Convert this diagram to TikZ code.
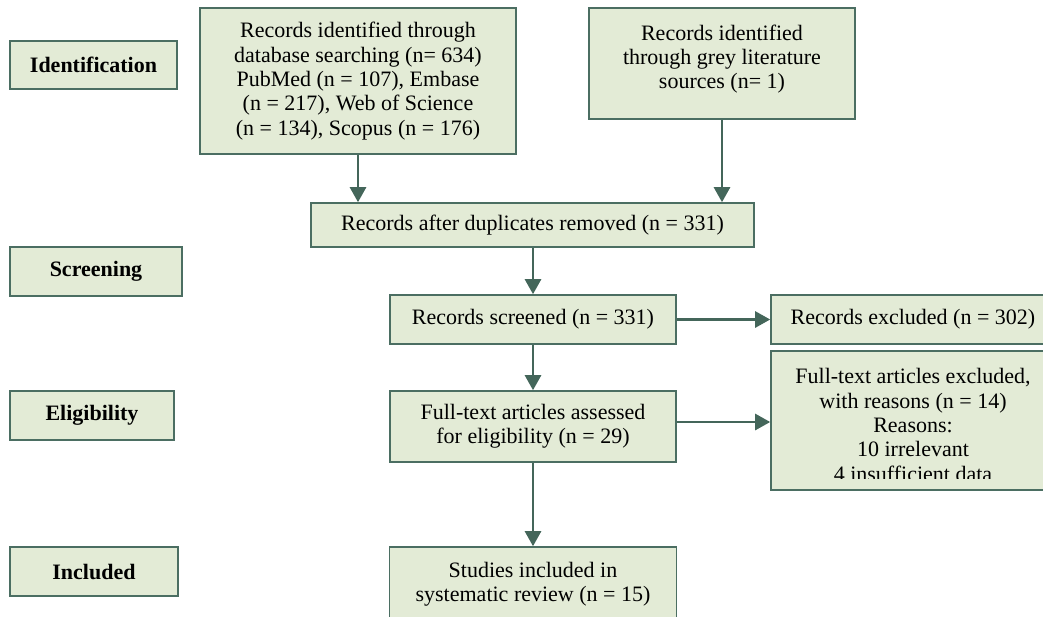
\documentclass[tikz,border=0pt]{standalone}
\usepackage{fontspec}
\setmainfont{Liberation Serif}
\usetikzlibrary{arrows.meta}
\definecolor{boxfill}{HTML}{E3EBD6}
\definecolor{boxline}{HTML}{4B6E62}
\definecolor{arrowc}{HTML}{44665A}
\begin{document}
\begin{tikzpicture}[x=1pt,y=-1pt,
  box/.style={draw=boxline,fill=boxfill,line width=1.6pt,inner sep=0pt,align=center,
     font=\fontsize{22}{24.3}\selectfont},
  lab/.style={box,font=\fontsize{22}{24.3}\selectfont\bfseries},
  txt/.style={inner sep=0pt,align=center,font=\fontsize{22}{24.3}\selectfont},
  arr/.style={draw=arrowc,line width=2.6pt,-{Triangle[width=16pt,length=15pt]}}]
\clip (0,0) rectangle (1043,616);
\fill[white] (0,0) rectangle (1043,616);
% stage labels
\node[lab,minimum width=167pt,minimum height=48pt] (ident) at (93.5,65) {Identification};
\node[lab,minimum width=172pt,minimum height=49pt] (screenlab) at (96,271.5) {Screening};
\node[lab,minimum width=164pt,minimum height=49pt] (elig) at (92,415.5) {Eligibility};
\node[lab,minimum width=168pt,minimum height=49pt] (incl) at (94,571.5) {Included};
% flow boxes
\node[box,minimum width=316pt,minimum height=146pt] (db) at (358,81) {Records identified through\\database searching (n= 634)\\PubMed (n = 107), Embase\\(n = 217), Web of Science\\(n = 134), Scopus (n = 176)};
\node[box,minimum width=266pt,minimum height=111pt] (grey) at (722,63.5) {};
\node[txt] (greyt) at (722,59) {Records identified\\through grey literature\\sources (n= 1)};
\node[box,minimum width=443pt,minimum height=44pt] (dup) at (532.5,225) {Records after duplicates removed (n = 331)};
\node[box,minimum width=286pt,minimum height=49pt] (scr) at (533,319.5) {Records screened (n = 331)};
\node[box,minimum width=284pt,minimum height=49pt] (excl) at (913,319.5) {Records excluded (n = 302)};
\node[box,minimum width=286pt,minimum height=71pt] (fta) at (533,426.5) {Full-text articles assessed\\for eligibility (n = 29)};
\node[box,minimum width=284pt,minimum height=139pt] (fte) at (913,420.5) {};
\begin{scope}
\clip (771,351) rectangle (1060,478);
\node[txt] (ftet) at (913,425) {Full-text articles excluded,\\with reasons (n = 14)\\Reasons:\\10 irrelevant\\4 insufficient data};
\end{scope}
\node[box,minimum width=287pt,minimum height=74pt] (study) at (533,584) {Studies included in\\systematic review (n = 15)};
% connectors
\draw[arr] (db.south) -- (db.south |- dup.north);
\draw[arr] (grey.south) -- (grey.south |- dup.north);
\draw[arr] (dup.south -| scr.north) -- (scr.north);
\draw[arr] (scr.south) -- (fta.north);
\draw[arr] (fta.south) -- (study.north);
\draw[arr] (scr.east) -- (excl.west);
\draw[arr] ([yshift=4.5pt]fta.east) -- ([yshift=4.5pt]fta.east -| fte.west);
\end{tikzpicture}
\end{document}
